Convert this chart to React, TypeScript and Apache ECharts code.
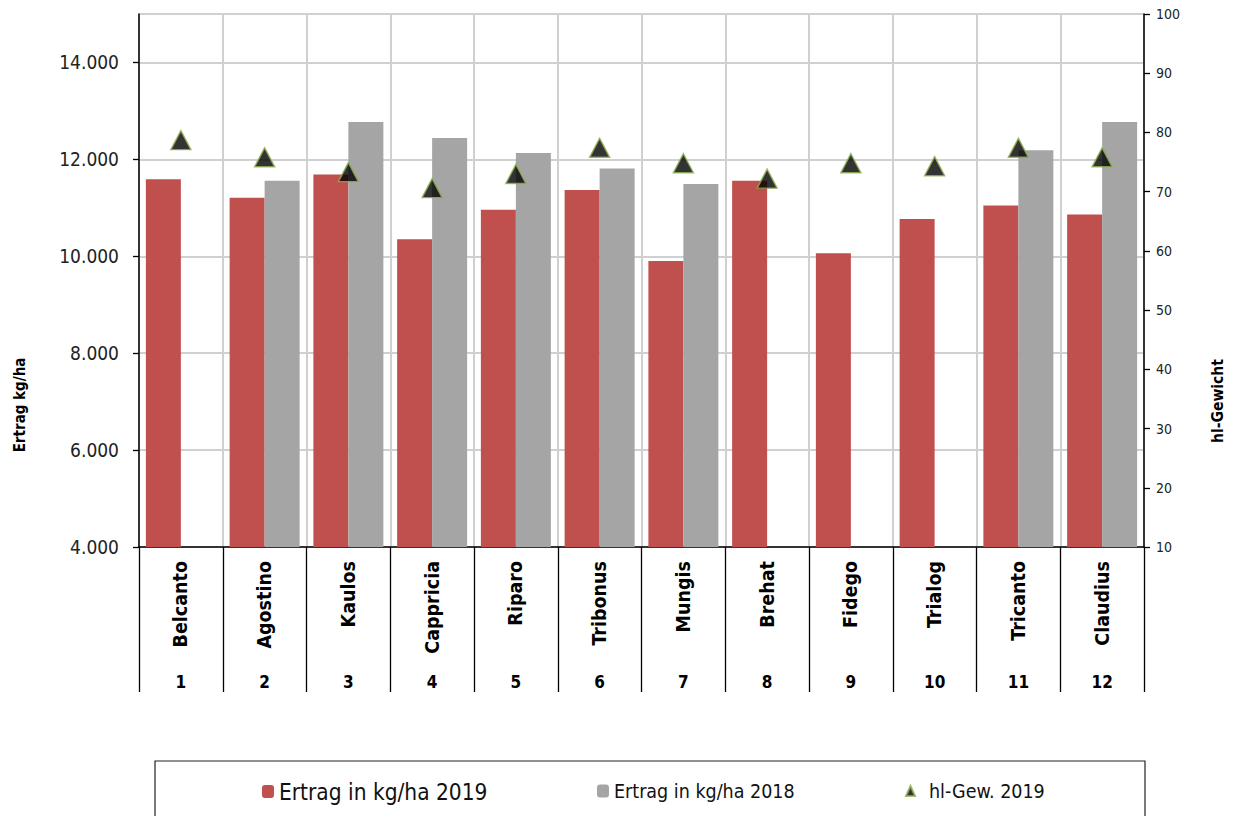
import React, { useEffect, useRef } from "react";
import * as echarts from "echarts";

const categories = ["Belcanto", "Agostino", "Kaulos", "Cappricia", "Riparo", "Tribonus", "Mungis", "Brehat", "Fidego", "Trialog", "Tricanto", "Claudius"];
const numbers = ["1", "2", "3", "4", "5", "6", "7", "8", "9", "10", "11", "12"];
const yield2019 = [11590, 11210, 11690, 10350, 10960, 11370, 9900, 11560, 10060, 10770, 11050, 10860];
const yield2018 = [null, 11560, 12770, 12440, 12130, 11810, 11490, null, null, null, 12190, 12770];
const hlWeight2019 = [78.7, 75.8, 73.3, 70.6, 73.0, 77.4, 74.8, 72.2, 74.8, 74.3, 77.4, 75.8];
const leftTicks = { min: 4000, max: 15000, interval: 2000 };
const rightTicks = { min: 10, max: 100, interval: 10 };

const S1 = "Ertrag in kg/ha 2019";
const S2 = "Ertrag in kg/ha 2018";
const S3 = "hl-Gew. 2019";

const FONT = "'DejaVu Sans Condensed', 'DejaVu Sans', sans-serif";

export default function App() {
  const ref = useRef<HTMLDivElement>(null);
  useEffect(() => {
    if (!ref.current) return;
    const chart = echarts.init(ref.current, null, { renderer: "svg" });
    const option: any = {
      animation: false,
      backgroundColor: "#fff",
      textStyle: { fontFamily: FONT },
      grid: { left: 139, right: 95, top: 14, bottom: 269, show: true, borderColor: "#aaaaaa", borderWidth: 1 },
      xAxis: [
        {
          type: "category",
          data: categories,
          position: "bottom",
          axisLine: { show: true, lineStyle: { color: "#000", width: 1.5 } },
          axisTick: { show: true, length: 145, lineStyle: { color: "#000", width: 1.3 } },
          splitLine: { show: true, lineStyle: { color: "#d0d0d0", width: 2 } },
          axisLabel: { rotate: 90, margin: 14, fontWeight: "bold", fontSize: 19.5, color: "#000", fontFamily: FONT },
        },
        {
          type: "category",
          data: numbers,
          position: "bottom",
          axisLine: { show: false },
          axisTick: { show: false },
          splitLine: { show: false },
          axisLabel: { margin: 126, fontWeight: "bold", fontSize: 17, color: "#000", fontFamily: FONT },
        },
      ],
      yAxis: [
        {
          type: "value",
          min: leftTicks.min,
          max: leftTicks.max,
          interval: leftTicks.interval,
          position: "left",
          axisLine: { show: true, lineStyle: { color: "#000", width: 1.5 } },
          axisTick: { show: true, length: 6, lineStyle: { color: "#000", width: 1.3 } },
          splitLine: { show: true, lineStyle: { color: "#d0d0d0", width: 2 } },
          axisLabel: {
            margin: 20,
            fontSize: 19,
            color: "#222",
            fontFamily: FONT,
            showMaxLabel: false,
            formatter: (v: number) => (v >= leftTicks.max ? "" : (v / 1000).toFixed(3)),
          },
        },
        {
          type: "value",
          min: rightTicks.min,
          max: rightTicks.max,
          interval: rightTicks.interval,
          position: "right",
          axisLine: { show: true, lineStyle: { color: "#000", width: 1.5 } },
          axisTick: { show: true, length: 6, lineStyle: { color: "#000", width: 1.3 } },
          splitLine: { show: false },
          axisLabel: { margin: 12, fontSize: 14, color: "#222", fontFamily: FONT },
        },
      ],
      legend: [
        {
          data: [{ name: S1, textStyle: { fontSize: 22.5 } }],
          left: 262,
          top: 780,
          padding: 0,
          itemWidth: 12,
          itemHeight: 13,
          textStyle: { color: "#111", fontFamily: FONT },
        },
        {
          data: [{ name: S2, textStyle: { fontSize: 19.5 } }],
          left: 597,
          top: 781,
          padding: 0,
          itemWidth: 12,
          itemHeight: 13,
          textStyle: { color: "#111", fontFamily: FONT },
        },
        {
          data: [{ name: S3, textStyle: { fontSize: 19.5, padding: [0, 0, 0, 9] } }],
          left: 905,
          top: 781,
          padding: 0,
          itemWidth: 9,
          itemHeight: 10,
          textStyle: { color: "#111", fontFamily: FONT },
        },
      ],
      graphic: [
        {
          type: "rect",
          shape: { x: 155, y: 761, width: 990, height: 100 },
          style: { fill: "none", stroke: "#222", lineWidth: 1.2 },
          silent: true,
        },
        {
          type: "text",
          x: 20,
          y: 405,
          rotation: Math.PI / 2,
          style: { text: "Ertrag kg/ha", fontSize: 15, fontWeight: "bold", fontFamily: FONT, fill: "#000", align: "center", verticalAlign: "middle" },
        },
        {
          type: "text",
          x: 1218,
          y: 401,
          rotation: Math.PI / 2,
          style: { text: "hl-Gewicht", fontSize: 15.5, fontWeight: "bold", fontFamily: FONT, fill: "#000", align: "center", verticalAlign: "middle" },
        },
      ],
      series: [
        {
          name: S1,
          type: "bar",
          data: yield2019,
          barWidth: 35,
          barGap: "0%",
          itemStyle: { color: "#C0504D" },
        },
        {
          name: S2,
          type: "bar",
          data: yield2018,
          barWidth: 35,
          barGap: "0%",
          itemStyle: { color: "#A5A5A5" },
        },
        {
          name: S3,
          type: "scatter",
          yAxisIndex: 1,
          data: hlWeight2019,
          symbol: "triangle",
          symbolSize: [20, 19],
          z: 5,
          itemStyle: { color: "#000", borderColor: "#8CB050", borderWidth: 1.5 },
        },
      ],
    };
    chart.setOption(option);
    return () => chart.dispose();
  }, []);
  return (
    <div
      ref={ref}
      style={{ position: "fixed", left: 0, top: 0, width: 1239, height: 816, background: "#fff" }}
    />
  );
}
